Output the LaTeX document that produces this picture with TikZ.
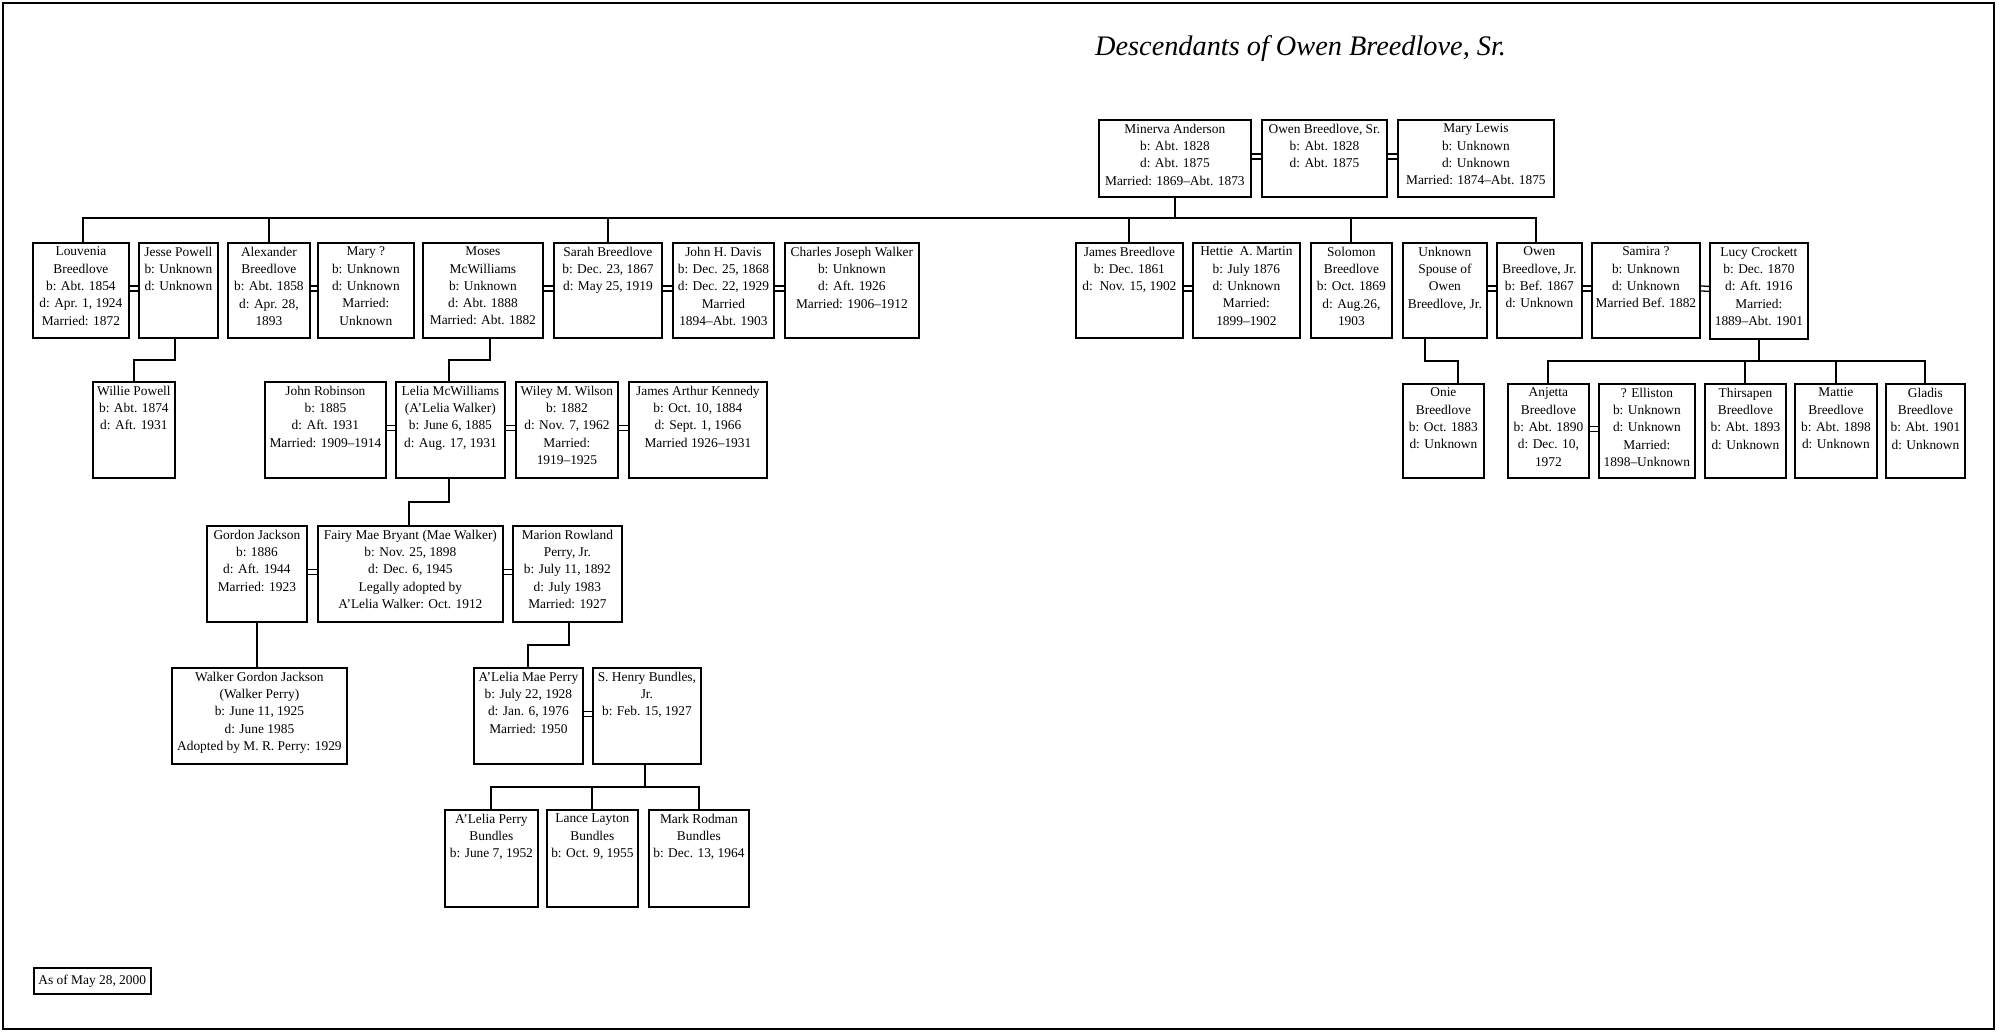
\documentclass[tikz,border=0pt]{standalone}
\usepackage{fontspec}
\setmainfont{Liberation Serif}
\usetikzlibrary{calc}
\tikzset{
  pbox/.style={draw, line width=1.8pt, inner sep=0pt, anchor=north west},
  ptxt/.style={align=center, inner sep=0pt, anchor=north, font=\fontsize{13.4}{17.3}\selectfont},
  conn/.style={line width=1.9pt},
  dbl/.style={line width=1.3pt},
}
\newcommand{\person}[6]{%
  \node[pbox, minimum width={(#4-#2)*1pt}, minimum height={(#5-#3)*1pt}] (#1) at (#2,#3) {};
  \node[ptxt] (#1-t) at ([yshift=-4.8pt]#1.north) {#6};
}
\newcommand{\marr}[2]{%
  \draw[dbl] ([yshift=4.5pt]#1.east) -- ([yshift=4.5pt]#2.west);
  \draw[dbl] ([yshift=-0.5pt]#1.east) -- ([yshift=-0.5pt]#2.west);
}
\newcommand{\drop}[4]{%
  \coordinate (#1-#2) at ($([xshift=#3]#1.south)!0.5!([xshift=#4]#2.north)$);
  \draw[conn] ([xshift=#3]#1.south) |- (#1-#2) -| ([xshift=#4]#2.north);
}
\newcommand{\dash}{\textendash}
\begin{document}
\begin{tikzpicture}[x=1pt, y=-1pt]
\useasboundingbox (0,0) rectangle (2000,1031);
\draw[line width=1.8pt] (3,3) rectangle (1994,1029);

\node[anchor=base west, inner sep=0pt, font=\fontsize{28.3}{32}\selectfont\itshape] (title) at (1095,55) {Descendants of Owen Breedlove, Sr.};

% generation 0
\person{minerva}{1098}{119}{1250}{196}{Minerva Anderson\\b: Abt. 1828\\d: Abt. 1875\\Married: 1869\dash Abt. 1873}
\person{owensr}{1261}{119}{1386}{196}{Owen Breedlove, Sr.\\b: Abt. 1828\\d: Abt. 1875}
\person{marylewis}{1397}{119}{1553}{196}{Mary Lewis\\b: Unknown\\d: Unknown\\Married: 1874\dash Abt. 1875}
\marr{minerva}{owensr}
\marr{owensr}{marylewis}

% generation 1
\person{louvenia}{32}{242}{128}{337}{Louvenia\\Breedlove\\b: Abt. 1854\\d: Apr. 1, 1924\\Married: 1872}
\person{jesse}{138}{242}{217}{337}{Jesse Powell\\b: Unknown\\d: Unknown}
\person{alexander}{227}{242}{309}{337}{Alexander\\Breedlove\\b: Abt. 1858\\d: Apr. 28,\\1893}
\person{marya}{317}{242}{413}{337}{Mary ?\\b: Unknown\\d: Unknown\\Married:\\Unknown}
\person{moses}{422}{242}{542}{337}{Moses\\McWilliams\\b: Unknown\\d: Abt. 1888\\Married: Abt. 1882}
\person{sarah}{553}{242}{661}{337}{Sarah Breedlove\\b: Dec. 23, 1867\\d: May 25, 1919}
\person{davis}{672}{242}{773}{337}{John H. Davis\\b: Dec. 25, 1868\\d: Dec. 22, 1929\\Married\\1894\dash Abt. 1903}
\person{charles}{784}{242}{918}{337}{Charles Joseph Walker\\b: Unknown\\d: Aft. 1926\\Married: 1906\dash 1912}
\person{james}{1075}{242}{1182}{337}{James Breedlove\\b: Dec. 1861\\d:\ \ Nov. 15, 1902}
\person{hettie}{1192}{242}{1299}{337}{Hettie\ \ A. Martin\\b: July 1876\\d: Unknown\\Married:\\1899\dash 1902}
\person{solomon}{1310}{242}{1391}{337}{Solomon\\Breedlove\\b: Oct. 1869\\d: Aug.26,\\1903}
\person{spouse}{1402}{242}{1486}{337}{Unknown\\Spouse of\\Owen\\Breedlove, Jr.}
\person{owenjr}{1496}{242}{1581}{337}{Owen\\Breedlove, Jr.\\b: Bef. 1867\\d: Unknown}
\person{samira}{1591}{242}{1699}{337}{Samira ?\\b: Unknown\\d: Unknown\\Married Bef. 1882}
\person{lucy}{1709}{242}{1807}{338}{Lucy Crockett\\b: Dec. 1870\\d: Aft. 1916\\Married:\\1889\dash Abt. 1901}
\marr{louvenia}{jesse}
\marr{alexander}{marya}
\marr{moses}{sarah}
\marr{sarah}{davis}
\marr{davis}{charles}
\marr{james}{hettie}
\marr{spouse}{owenjr}
\marr{owenjr}{samira}
\marr{samira}{lucy}

\coordinate (bar0) at (0,218);
\draw[conn] (minerva.south) -- (minerva.south |- bar0);
\draw[conn] ([xshift=2pt]louvenia.north) -- ([xshift=2pt]louvenia.north |- bar0) -- ([xshift=-3.5pt]owenjr.north |- bar0) -- ([xshift=-3.5pt]owenjr.north);
\foreach \c in {alexander, sarah, james, solomon} {\draw[conn] (\c.north) -- (\c.north |- bar0);}

% generation 2, left
\person{willie}{92}{381}{174}{477}{Willie Powell\\b: Abt. 1874\\d: Aft. 1931}
\person{robinson}{264}{381}{385}{477}{John Robinson\\b: 1885\\d: Aft. 1931\\Married: 1909\dash 1914}
\person{lelia}{395}{381}{504}{477}{Lelia McWilliams\\(A'Lelia Walker)\\b: June 6, 1885\\d: Aug. 17, 1931}
\person{wiley}{515}{381}{617}{477}{Wiley M. Wilson\\b: 1882\\d: Nov. 7, 1962\\Married:\\1919\dash 1925}
\person{kennedy}{628}{381}{766}{477}{James Arthur Kennedy\\b: Oct. 10, 1884\\d: Sept. 1, 1966\\Married 1926\dash 1931}
\marr{robinson}{lelia}
\marr{lelia}{wiley}
\marr{wiley}{kennedy}
\drop{jesse}{willie}{-3.5pt}{0pt}
\drop{moses}{lelia}{7pt}{-1.5pt}

% generation 2, right
\person{onie}{1402}{383}{1483}{477}{Onie\\Breedlove\\b: Oct. 1883\\d: Unknown}
\person{anjetta}{1507}{383}{1588}{477}{Anjetta\\Breedlove\\b: Abt. 1890\\d: Dec. 10,\\1972}
\person{elliston}{1598}{383}{1694}{477}{? Elliston\\b: Unknown\\d: Unknown\\Married:\\1898\dash Unknown}
\person{thirsapen}{1704}{383}{1785}{477}{Thirsapen\\Breedlove\\b: Abt. 1893\\d: Unknown}
\person{mattie}{1794}{383}{1876}{477}{Mattie\\Breedlove\\b: Abt. 1898\\d: Unknown}
\person{gladis}{1885}{383}{1964}{477}{Gladis\\Breedlove\\b: Abt. 1901\\d: Unknown}
\marr{anjetta}{elliston}
\drop{spouse}{onie}{-20pt}{14.5pt}

\coordinate (bar1) at ($(lucy.south)!0.5!(thirsapen.north)$);
\draw[conn] (lucy.south) -- (lucy.south |- bar1);
\draw[conn] (anjetta.north) -- (anjetta.north |- bar1) -- (gladis.north |- bar1) -- (gladis.north);
\foreach \c in {thirsapen, mattie} {\draw[conn] (\c.north) -- (\c.north |- bar1);}

% generation 3
\person{gordon}{206}{525}{306}{621}{Gordon Jackson\\b: 1886\\d: Aft. 1944\\Married: 1923}
\person{fairy}{317}{525}{502}{621}{Fairy Mae Bryant (Mae Walker)\\b: Nov. 25, 1898\\d: Dec. 6, 1945\\Legally adopted by\\A'Lelia Walker: Oct. 1912}
\person{marion}{512}{525}{621}{621}{Marion Rowland\\Perry, Jr.\\b: July 11, 1892\\d: July 1983\\Married: 1927}
\marr{gordon}{fairy}
\marr{fairy}{marion}
\drop{lelia}{fairy}{-1.5pt}{-1.5pt}

% generation 4
\person{walker}{171}{667}{346}{763}{Walker Gordon Jackson\\(Walker Perry)\\b: June 11, 1925\\d: June 1985\\Adopted by M. R. Perry: 1929}
\person{aleliamae}{473}{667}{582}{763}{A'Lelia Mae Perry\\b: July 22, 1928\\d: Jan. 6, 1976\\Married: 1950}
\person{henry}{592}{667}{700}{763}{S. Henry Bundles,\\Jr.\\b: Feb. 15, 1927}
\marr{aleliamae}{henry}
\draw[conn] (gordon.south) -- (gordon.south |- walker.north);
\drop{marion}{aleliamae}{1.5pt}{0pt}

% generation 5
\person{apb}{444}{809}{537}{906}{A'Lelia Perry\\Bundles\\b: June 7, 1952}
\person{lance}{546}{809}{637}{906}{Lance Layton\\Bundles\\b: Oct. 9, 1955}
\person{mark}{648}{809}{748}{906}{Mark Rodman\\Bundles\\b: Dec. 13, 1964}
\coordinate (bar2) at ($(henry.south)!0.5!(lance.north)$);
\draw[conn] ([xshift=-2pt]henry.south) -- ([xshift=-2pt]henry.south |- bar2);
\draw[conn] (apb.north) -- (apb.north |- bar2) -- (mark.north |- bar2) -- (mark.north);
\draw[conn] (lance.north) -- (lance.north |- bar2);

\node[pbox, line width=1.5pt, minimum width=117pt, minimum height=26pt, font=\fontsize{13.4}{15}\selectfont] (asof) at (33,967) {As of May 28, 2000};
\end{tikzpicture}
\end{document}
